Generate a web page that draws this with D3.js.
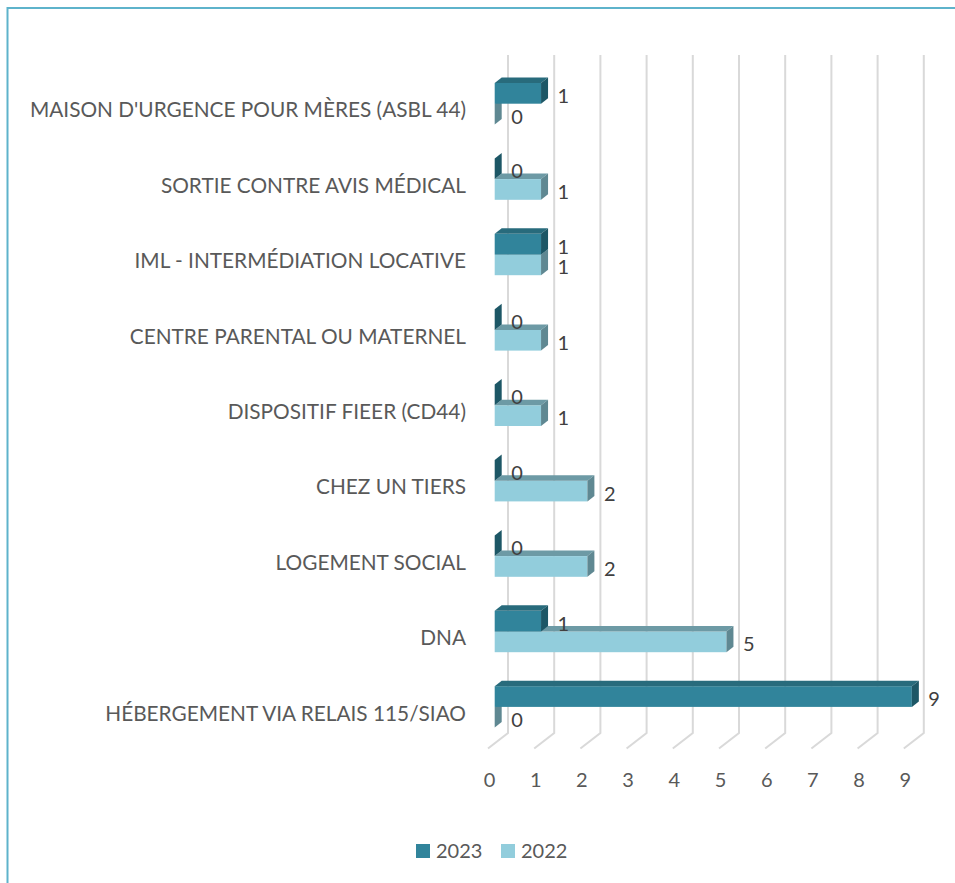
<!DOCTYPE html>
<html>
<head>
<meta charset="utf-8">
<script src="https://cdn.jsdelivr.net/npm/d3@7"></script>
<style>
  html, body { margin: 0; padding: 0; background: #fff; }
  svg { display: block; }
  text { font-family: Lato, "Open Sans", sans-serif; }
</style>
</head>
<body>
<svg id="chart" width="955" height="883"></svg>
<script>
const categories = [
  "MAISON D'URGENCE POUR MÈRES (ASBL 44)",
  "SORTIE CONTRE AVIS MÉDICAL",
  "IML - INTERMÉDIATION LOCATIVE",
  "CENTRE PARENTAL OU MATERNEL",
  "DISPOSITIF FIEER (CD44)",
  "CHEZ UN TIERS",
  "LOGEMENT SOCIAL",
  "DNA",
  "HÉBERGEMENT VIA RELAIS 115/SIAO"
];
const values2023 = [1, 0, 1, 0, 0, 0, 0, 1, 9];
const values2022 = [0, 1, 1, 1, 1, 2, 2, 5, 0];
const seriesNames = ["2023", "2022"];
const xTicks = [0, 1, 2, 3, 4, 5, 6, 7, 8, 9];

const svg = d3.select("#chart");

// chart area outline (right/bottom edges fall outside the frame)
svg.append("rect")
  .attr("x", 7.5).attr("y", 8).attr("width", 1000).attr("height", 1000)
  .attr("fill", "none").attr("stroke", "#5eb3cb").attr("stroke-width", 2);

// scales
const x = d3.scaleLinear().domain([0, 9]).range([494.7, 494.7 + 9 * 46.35]);
const xBack = d3.scaleLinear().domain([0, 9]).range([508, 508 + 9 * 46.2]);
const xFront = d3.scaleLinear().domain([0, 9]).range([488, 488 + 9 * 46.2]);
const y = d3.scaleBand().domain(categories).range([66, 66 + 9 * 75.4]).paddingInner(0).paddingOuter(0);

const backTop = 55, backBottom = 733, frontY = 748.5;

// gridlines: back wall + floor diagonal
const grid = svg.append("g");
xTicks.forEach(t => {
  grid.append("path")
    .attr("d", `M${xBack(t)},${backTop} L${xBack(t)},${backBottom} L${xFront(t)},${frontY}`)
    .attr("fill", "none").attr("stroke", "#d9d9d9").attr("stroke-width", 2);
});

// x axis labels via d3 axis
const xAxis = d3.axisBottom(d3.scaleLinear().domain([0, 9]).range([489, 489 + 9 * 46.2]))
  .tickValues(xTicks).tickSize(0).tickPadding(0).tickFormat(d3.format("d"));
const gx = svg.append("g").attr("transform", "translate(0,780)").call(xAxis);
gx.select(".domain").remove();
gx.selectAll("text").attr("dy", "0.35em").attr("y", 0)
  .attr("fill", "#595959").style("font-size", "20px").style("font-family", "Lato, 'Open Sans', sans-serif");

// category labels via d3 axis
const yAxis = d3.axisLeft(y).tickSize(0).tickPadding(0);
const gy = svg.append("g").attr("transform", "translate(466,7)").call(yAxis);
gy.select(".domain").remove();
gy.selectAll("text").attr("fill", "#595959").style("font-size", "20.8px")
  .style("font-family", "Lato, 'Open Sans', sans-serif");

// 3D bars
const barH = 20.7, dX = 7, dY = 5.5;
const styles = {
  "2023": { front: "#31849b", top: "#286b7c", side: "#1d5766" },
  "2022": { front: "#92cddc", top: "#6d9aa5", side: "#5f8892" }
};

function drawBar(g, v, top, st) {
  const x0 = x(0), x1 = x(v), b = top + barH;
  if (v > 0) {
    g.append("rect").attr("x", x0).attr("y", top).attr("width", x1 - x0).attr("height", barH)
      .attr("fill", st.front);
    g.append("path").attr("d", `M${x0},${top} L${x1},${top} L${x1 + dX},${top - dY} L${x0 + dX},${top - dY} Z`)
      .attr("fill", st.top);
  }
  g.append("path").attr("d", `M${x1},${top} L${x1 + dX},${top - dY} L${x1 + dX},${b - dY} L${x1},${b} Z`)
    .attr("fill", st.side);
}

const bars = svg.append("g");
const labels = svg.append("g");
categories.forEach((c, i) => {
  const center = y(c) + y.bandwidth() / 2;
  const t2023 = center - barH, t2022 = center;
  const g = bars.append("g");
  drawBar(g, values2022[i], t2022, styles["2022"]);
  drawBar(g, values2023[i], t2023, styles["2023"]);
  [[values2023[i], t2023], [values2022[i], t2022]].forEach(([v, t]) => {
    labels.append("text")
      .attr("x", x(v) + 16.5).attr("y", t + barH / 2 + 2.5).attr("dy", "0.35em")
      .attr("fill", "#404040").style("font-size", "20px").text(v);
  });
});

// legend
const legend = svg.append("g");
const legendItems = [
  { name: seriesNames[0], color: styles["2023"].front, x: 416 },
  { name: seriesNames[1], color: styles["2022"].front, x: 501 }
];
legendItems.forEach(d => {
  legend.append("rect").attr("x", d.x).attr("y", 844).attr("width", 14).attr("height", 14).attr("fill", d.color);
  legend.append("text").attr("x", d.x + 20).attr("y", 851).attr("dy", "0.35em")
    .attr("fill", "#595959").style("font-size", "20px").text(d.name);
});
</script>
</body>
</html>
